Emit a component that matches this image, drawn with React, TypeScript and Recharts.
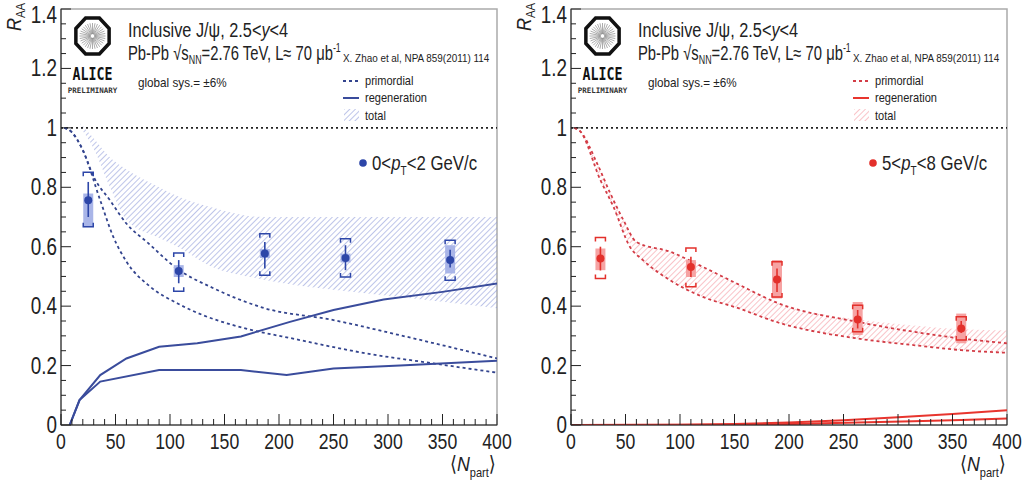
import React from 'react'
import { ComposedChart, Line, Area, Scatter, ErrorBar, XAxis, YAxis, ReferenceLine, ReferenceArea } from 'recharts'

// axis ticks
const xTicks = [0, 10, 20, 30, 40, 50, 60, 70, 80, 90, 100, 110, 120, 130, 140, 150, 160, 170, 180, 190, 200,
  210, 220, 230, 240, 250, 260, 270, 280, 290, 300, 310, 320, 330, 340, 350, 360, 370, 380, 390, 400]
const xMajor = [0, 50, 100, 150, 200, 250, 300, 350, 400]
const yTicks = [0, 0.05, 0.1, 0.15, 0.2, 0.25, 0.3, 0.35, 0.4, 0.45, 0.5, 0.55, 0.6, 0.65, 0.7, 0.75, 0.8,
  0.85, 0.9, 0.95, 1, 1.05, 1.1, 1.15, 1.2, 1.25, 1.3, 1.35, 1.4]
const yMajor = [0, 0.2, 0.4, 0.6, 0.8, 1, 1.2, 1.4]

// left panel: 0<pT<2 GeV/c
const leftN = [25, 108, 187, 261, 357]
const leftR = [0.756, 0.518, 0.577, 0.562, 0.555]
const leftStat = [[0.056, 0.062], [0.041, 0.037], [0.05, 0.039], [0.041, 0.043], [0.025, 0.035]]
const leftBox = [[0.09, 0.023], [0.02, 0.02], [0.015, 0.015], [0.015, 0.015], [0.045, 0.05]]
const leftBrHi = [0.851, 0.579, 0.644, 0.627, 0.622]
const leftBrLo = [0.667, 0.45, 0.504, 0.498, 0.487]

const leftPrimUpperN = [3, 10, 20, 30, 45, 60, 80, 107, 140, 185, 250, 310, 400]
const leftPrimUpperR = [1.0, 0.985, 0.925, 0.835, 0.756, 0.678, 0.612, 0.525, 0.46, 0.395, 0.353, 0.303, 0.224]
const leftPrimLowerN = [3, 10, 20, 36, 48, 60, 82, 107, 130, 158, 219, 280, 342, 400]
const leftPrimLowerR = [1.0, 0.985, 0.925, 0.756, 0.633, 0.55, 0.465, 0.409, 0.37, 0.336, 0.286, 0.241, 0.207, 0.176]
const leftRegenUpperN = [8, 17, 36, 60, 90, 125, 165, 210, 250, 296, 350, 400]
const leftRegenUpperR = [0, 0.084, 0.168, 0.224, 0.263, 0.275, 0.298, 0.347, 0.387, 0.422, 0.448, 0.476]
const leftRegenLowerN = [8, 17, 36, 90, 165, 207, 250, 311, 400]
const leftRegenLowerR = [0, 0.084, 0.146, 0.185, 0.185, 0.168, 0.19, 0.2, 0.216]
const leftBandN = [18, 30, 45, 60, 90, 107, 137, 185, 250, 300, 350, 400]
const leftBandHi = [1.015, 0.965, 0.9, 0.86, 0.8, 0.77, 0.734, 0.7, 0.7, 0.7, 0.7, 0.7]
const leftBandLo = [1.0, 0.93, 0.8, 0.69, 0.63, 0.6, 0.535, 0.49, 0.455, 0.435, 0.415, 0.393]

// right panel: 5<pT<8 GeV/c
const rightN = [27, 110, 189, 263, 358]
const rightR = [0.56, 0.532, 0.49, 0.355, 0.325]
const rightStat = [[0.04, 0.04], [0.034, 0.034], [0.042, 0.037], [0.03, 0.032], [0.015, 0.025]]
const rightBox = [[0.039, 0.034], [0.034, 0.023], [0.064, 0.065], [0.052, 0.059], [0.05, 0.05]]
const rightBrHi = [0.631, 0.596, 0.549, 0.403, 0.364]
const rightBrLo = [0.493, 0.465, 0.431, 0.314, 0.286]

const rightPrimUpperN = [3, 8, 24, 36, 48, 60, 91, 121, 152, 190, 263, 314, 358, 400]
const rightPrimUpperR = [1.0, 0.99, 0.88, 0.78, 0.69, 0.616, 0.583, 0.532, 0.476, 0.41, 0.347, 0.314, 0.291, 0.275]
const rightPrimLowerN = [3, 8, 27, 39, 54, 66, 91, 121, 152, 190, 263, 314, 358, 400]
const rightPrimLowerR = [1.0, 0.99, 0.824, 0.734, 0.6, 0.555, 0.487, 0.431, 0.395, 0.345, 0.291, 0.269, 0.252, 0.243]
const rightRegenUpperN = [0, 100, 150, 200, 250, 300, 350, 400]
const rightRegenUpperR = [0, 0.001, 0.003, 0.008, 0.016, 0.026, 0.037, 0.05]
const rightRegenLowerN = [0, 150, 200, 263, 314, 358, 400]
const rightRegenLowerR = [0, 0.001, 0.003, 0.008, 0.013, 0.017, 0.022]
const rightBandN = [3, 8, 24, 36, 48, 60, 91, 121, 152, 190, 263, 314, 358, 400]
const rightBandHi = [1.0, 0.99, 0.88, 0.78, 0.69, 0.616, 0.583, 0.532, 0.476, 0.41, 0.355, 0.335, 0.322, 0.318]
const rightBandLo = [1.0, 0.99, 0.85, 0.755, 0.65, 0.575, 0.487, 0.431, 0.395, 0.345, 0.291, 0.269, 0.252, 0.243]

const FONT = '"Liberation Sans", Arial, sans-serif'

const curve = (ns: number[], rs: number[]) => ns.map((n, i) => ({ n, r: rs[i] }))
const band = (ns: number[], lo: number[], hi: number[]) => ns.map((n, i) => ({ n, band: [lo[i], hi[i]] }))
const points = (ns: number[], rs: number[], stat: number[][], box: number[][]) =>
  ns.map((n, i) => ({ n, r: rs[i], stat: stat[i], box: box[i] }))

// horizontally condensed text (the original uses a narrow Helvetica)
function T({ x, y, sx, size, anchor, children }: any) {
  return (
    <text transform={`translate(${x},${y}) scale(${sx},1)`} fontSize={size} textAnchor={anchor || 'start'}
      fontFamily={FONT} fill="#222">
      {children}
    </text>
  )
}

const XTick = (props: any) => {
  const { x, y, payload } = props
  const major = xMajor.includes(payload.value)
  return (
    <g>
      <line x1={x} y1={y} x2={x} y2={y - (major ? 11 : 6)} stroke="#222" strokeWidth={1} />
      {major && <T x={x} y={y + 24} sx={0.82} size={21.5} anchor="middle">{payload.value}</T>}
    </g>
  )
}

const YTick = (props: any) => {
  const { x, y, payload } = props
  const major = yMajor.includes(payload.value)
  return (
    <g>
      <line x1={x} y1={y} x2={x + (major ? 10 : 5)} y2={y} stroke="#222" strokeWidth={1} />
      {major && <T x={x - 4} y={Math.max(y + 8, 23)} sx={0.82} size={23} anchor="end">{String(payload.value)}</T>}
    </g>
  )
}

function Logo() {
  const cx = 92.5
  const cy = 36
  const oct = Array.from({ length: 8 }, (_, k) => {
    const a = ((22.5 + 45 * k) * Math.PI) / 180
    return `${cx + 18 * Math.cos(a)},${cy + 19.5 * Math.sin(a)}`
  }).join(' ')
  const rays = Array.from({ length: 32 }, (_, k) => (k * 2 * Math.PI) / 32)
  return (
    <g>
      <polygon points={oct} fill="#fff" stroke="#111" strokeWidth={3.5} />
      {rays.map((a, k) => (
        <line key={k} x1={cx + 2 * Math.cos(a)} y1={cy + 2 * Math.sin(a)} x2={cx + 13 * Math.cos(a)}
          y2={cy + 13 * Math.sin(a)} stroke="#888" strokeWidth={0.7} />
      ))}
      <text transform={`translate(${cx},80) scale(0.78,1)`} textAnchor="middle" fontSize={17} fontWeight="bold"
        fontFamily='"DejaVu Sans Mono", monospace' fill="#111">ALICE</text>
      <text x={cx} y={93} textAnchor="middle" fontSize={7.5} fontWeight="bold" fontFamily='"DejaVu Sans Mono", monospace'
        fill="#333">PRELIMINARY</text>
    </g>
  )
}

interface PanelProps {
  id: string
  left: number
  width: number
  right: number
  dash: string
  solid: string
  marker: string
  boxFill: string
  ptLow: string
  ptHigh: string
  pts: any[]
  brHi: any[]
  brLo: any[]
  primUpper: any[]
  primLower: any[]
  regenUpper: any[]
  regenLower: any[]
  bandData: any[]
}

function Panel(p: PanelProps) {
  const bracketTop = (s: any) => (
    <path d={`M${s.cx - 5},${s.cy + 4}V${s.cy}H${s.cx + 5}V${s.cy + 4}`} stroke={p.marker} strokeWidth={1.5} fill="none" />
  )
  const bracketBottom = (s: any) => (
    <path d={`M${s.cx - 5},${s.cy - 4}V${s.cy}H${s.cx + 5}V${s.cy - 4}`} stroke={p.marker} strokeWidth={1.5} fill="none" />
  )
  return (
    <div style={{ position: 'absolute', left: p.left, top: 0, width: p.width, height: 483 }}>
      <ComposedChart width={p.width} height={483} margin={{ top: 9, right: p.right, bottom: 28, left: 0 }}>
        <XAxis type="number" dataKey="n" domain={[0, 400]} ticks={xTicks} interval={0} tickSize={0} tickMargin={0}
          tickLine={false} tick={<XTick />} height={30} stroke="#222" allowDataOverflow />
        <YAxis type="number" domain={[0, 1.4]} ticks={yTicks} interval={0} tickSize={0} tickMargin={0}
          tickLine={false} tick={<YTick />} width={61} stroke="#222" allowDataOverflow />
        <ReferenceArea x1={0} x2={400} y1={0} y2={1.4} fill="none" stroke="#aaa" strokeWidth={1.5} />
        <Area data={p.bandData} dataKey="band" type="monotone" fill={`url(#${p.id})`} fillOpacity={1} stroke="none"
          isAnimationActive={false} />
        <ReferenceLine y={1} stroke="#222" strokeDasharray="2 3" strokeWidth={1.6} />
        <Line data={p.primUpper} dataKey="r" type="monotone" stroke={p.dash} strokeDasharray="3 3" strokeWidth={1.8}
          dot={false} isAnimationActive={false} />
        <Line data={p.primLower} dataKey="r" type="monotone" stroke={p.dash} strokeDasharray="3 3" strokeWidth={1.8}
          dot={false} isAnimationActive={false} />
        <Line data={p.regenUpper} dataKey="r" type="linear" stroke={p.solid} strokeWidth={2} dot={false}
          isAnimationActive={false} />
        <Line data={p.regenLower} dataKey="r" type="linear" stroke={p.solid} strokeWidth={2} dot={false}
          isAnimationActive={false} />
        <Scatter data={p.brHi} dataKey="r" shape={bracketTop} isAnimationActive={false} />
        <Scatter data={p.brLo} dataKey="r" shape={bracketBottom} isAnimationActive={false} />
        <Scatter data={p.pts} dataKey="r" isAnimationActive={false}
          shape={(s: any) => <circle cx={s.cx} cy={s.cy} r={4} fill={p.marker} />}>
          <ErrorBar dataKey="box" direction="y" width={0} strokeWidth={10} stroke={p.boxFill} />
          <ErrorBar dataKey="stat" direction="y" width={0} strokeWidth={1.6} stroke={p.marker} />
        </Scatter>
      </ComposedChart>
      <svg width={p.width} height={483} style={{ position: 'absolute', left: 0, top: 0, pointerEvents: 'none' }}>
        <text transform="translate(21,31) rotate(-90) scale(0.9,1)" fontSize={20} fontStyle="italic" fontFamily={FONT}
          fill="#222">
          R<tspan fontSize={12.5} dy={4} fontStyle="normal">AA</tspan>
        </text>
        <T x={450} y={471} sx={0.85} size={21}>
          <tspan fontFamily="DejaVu Sans">⟨</tspan><tspan fontStyle="italic">N</tspan>
          <tspan fontSize={13} dy={6}>part</tspan><tspan dy={-6} fontFamily="DejaVu Sans">⟩</tspan>
        </T>
        <Logo />
        <T x={128} y={37} sx={0.815} size={20}>
          Inclusive J/ψ, 2.5&lt;<tspan fontStyle="italic">y</tspan>&lt;4
        </T>
        <T x={128} y={60} sx={0.74} size={20}>
          Pb-Pb √s<tspan fontSize={12} dy={4}>NN</tspan><tspan dy={-4}>=2.76 TeV, L≈ 70 μb</tspan>
          <tspan fontSize={12} dy={-8}>-1</tspan>
        </T>
        <T x={343} y={62} sx={0.9} size={11}>X. Zhao et al, NPA 859(2011) 114</T>
        <T x={138} y={87} sx={0.9} size={13}>global sys.= ±6%</T>
        <line x1={343} y1={81} x2={359} y2={81} stroke={p.dash} strokeWidth={1.8} strokeDasharray="3 3" />
        <T x={365} y={85} sx={0.92} size={12}>primordial</T>
        <line x1={343} y1={98} x2={359} y2={98} stroke={p.solid} strokeWidth={2} />
        <T x={365} y={102} sx={0.92} size={12}>regeneration</T>
        <rect x={344} y={109} width={15} height={12} fill={`url(#${p.id})`} />
        <T x={365} y={120} sx={0.92} size={12}>total</T>
        <circle cx={363} cy={163} r={3.8} fill={p.marker} />
        <T x={372} y={170} sx={0.84} size={20}>
          {p.ptLow}&lt;<tspan fontStyle="italic">p</tspan><tspan fontSize={12} dy={5}>T</tspan>
          <tspan dy={-5}>&lt;{p.ptHigh} GeV/c</tspan>
        </T>
      </svg>
    </div>
  )
}

export default function App() {
  return (
    <div style={{ position: 'absolute', left: 0, top: 0, width: 1025, height: 483, background: '#fff' }}>
      <svg width={0} height={0} style={{ position: 'absolute' }}>
        <defs>
          <pattern id="hatch-blue" patternUnits="userSpaceOnUse" width={4} height={4} patternTransform="rotate(45)">
            <line x1={0} y1={0} x2={0} y2={4} stroke="#8795d6" strokeWidth={1.1} />
          </pattern>
          <pattern id="hatch-red" patternUnits="userSpaceOnUse" width={4} height={4} patternTransform="rotate(45)">
            <line x1={0} y1={0} x2={0} y2={4} stroke="#f4919a" strokeWidth={1.1} />
          </pattern>
        </defs>
      </svg>
      <Panel id="hatch-blue" left={0} width={522} right={25} dash="#33448e" solid="#3a4c9c" marker="#2d46a8"
        boxFill="#a9b5e8" ptLow="0" ptHigh="2"
        pts={points(leftN, leftR, leftStat, leftBox)}
        brHi={curve(leftN, leftBrHi)} brLo={curve(leftN, leftBrLo)}
        primUpper={curve(leftPrimUpperN, leftPrimUpperR)} primLower={curve(leftPrimLowerN, leftPrimLowerR)}
        regenUpper={curve(leftRegenUpperN, leftRegenUpperR)} regenLower={curve(leftRegenLowerN, leftRegenLowerR)}
        bandData={band(leftBandN, leftBandLo, leftBandHi)} />
      <Panel id="hatch-red" left={510} width={515} right={18} dash="#d33c46" solid="#e8352e" marker="#e3302b"
        boxFill="#f6a3a3" ptLow="5" ptHigh="8"
        pts={points(rightN, rightR, rightStat, rightBox)}
        brHi={curve(rightN, rightBrHi)} brLo={curve(rightN, rightBrLo)}
        primUpper={curve(rightPrimUpperN, rightPrimUpperR)} primLower={curve(rightPrimLowerN, rightPrimLowerR)}
        regenUpper={curve(rightRegenUpperN, rightRegenUpperR)} regenLower={curve(rightRegenLowerN, rightRegenLowerR)}
        bandData={band(rightBandN, rightBandLo, rightBandHi)} />
    </div>
  )
}
